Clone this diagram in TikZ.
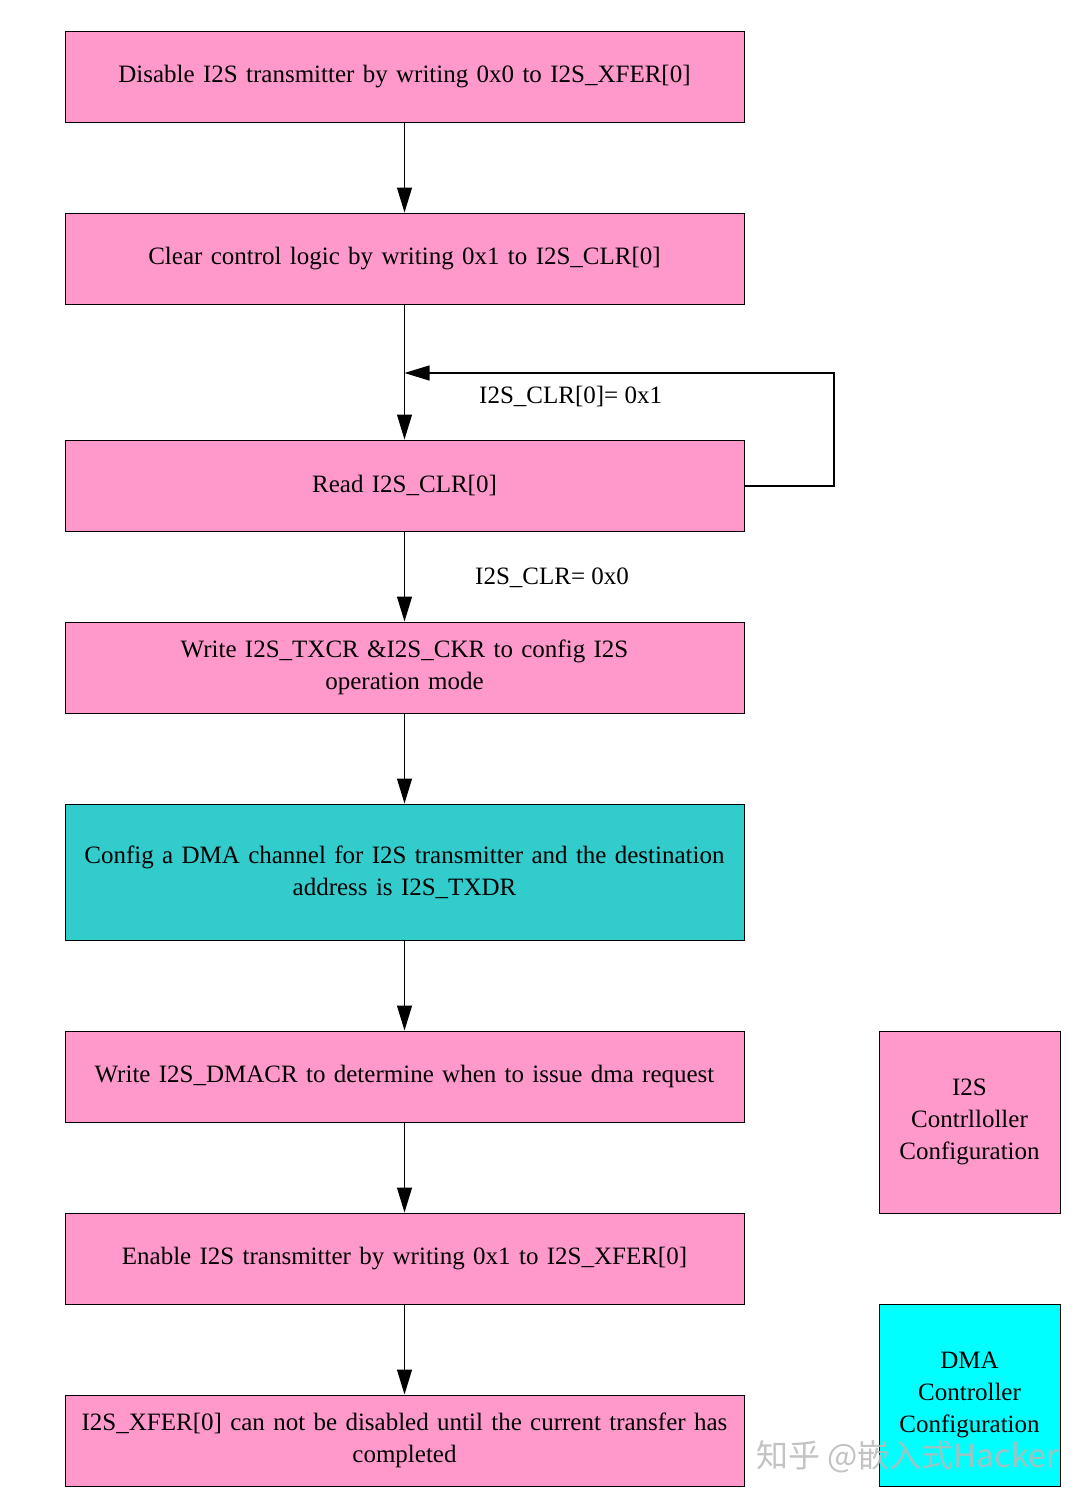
\documentclass[tikz,border=0pt]{standalone}
\usepackage{fontspec}
\setmainfont{Liberation Serif}
\newfontfamily\cjkfont{Noto Sans CJK SC}
\usetikzlibrary{arrows.meta,positioning}
\definecolor{pinkfill}{HTML}{FF99CC}
\definecolor{tealfill}{HTML}{33CCCC}
\definecolor{cyanfill}{HTML}{00FFFF}
\begin{document}
\begin{tikzpicture}[x=1pt,y=-1pt,
  every node/.style={font=\fontsize{25}{32}\selectfont, inner sep=0pt},
  stepbox/.style={draw=black, line width=1pt, fill=pinkfill, minimum width=679pt, minimum height=91pt, align=center, text width=670pt},
  legbox/.style={draw=black, line width=1pt, minimum width=181pt, align=center, text width=176pt},
  flow/.style={draw=black, line width=1.2pt, -{Triangle[length=25pt,width=15pt]}},
  lbl/.style={anchor=west}]
\useasboundingbox (0,0) rectangle (1090,1502);
\node[stepbox] (b1) at (404.5,76.5) {Disable I2S transmitter by writing 0x0 to I2S\_XFER[0]};
\node[stepbox] (b2) at (404.5,258.5) {Clear control logic by writing 0x1 to I2S\_CLR[0]};
\node[stepbox] (b3) at (404.5,485.5) {Read I2S\_CLR[0]};
\node[stepbox] (b4) at (404.5,667.5) {Write I2S\_TXCR \&I2S\_CKR to config I2S\\operation mode};
\node[stepbox, fill=tealfill, minimum height=136pt] (b5) at (404.5,872) {Config a DMA channel for I2S transmitter and the destination\\address is I2S\_TXDR};
\node[stepbox] (b6) at (404.5,1076.5) {Write I2S\_DMACR to determine when to issue dma request};
\node[stepbox] (b7) at (404.5,1258.5) {Enable I2S transmitter by writing 0x1 to I2S\_XFER[0]};
\node[stepbox] (b8) at (404.5,1440.5) {I2S\_XFER[0] can not be disabled until the current transfer has\\completed};
\node[legbox, fill=pinkfill, minimum height=182pt] (l1) at (969.5,1122) {I2S\\Contrlloller\\Configuration};
\node[legbox, fill=cyanfill, minimum height=182pt] (l2) at (969.5,1395) {DMA\\Controller\\Configuration};
\coordinate (m23) at (404.5,373);
\coordinate (r1) at (834,486);
\coordinate (r2) at (834,373);
\draw[flow] (b1) -- (b2);
\draw[line width=1.2pt] (b2) -- (m23);
\draw[flow] (m23) -- (b3);
\draw[flow] (b3.east |- r1) -- (r1) -- (r2) -- (m23);
\node[lbl] (t1) at (479,396) {I2S\_CLR[0]= 0x1};
\draw[flow] (b3) -- (b4);
\node[lbl] (t2) at (475,578) {I2S\_CLR= 0x0};
\draw[flow] (b4) -- (b5);
\draw[flow] (b5) -- (b6);
\draw[flow] (b6) -- (b7);
\draw[flow] (b7) -- (b8);
\node[anchor=west, font=\cjkfont\fontsize{32}{34}\selectfont, text=gray!55, opacity=0.85] (wm) at (756,1457) {知乎 @嵌入式Hacker};
\end{tikzpicture}
\end{document}
